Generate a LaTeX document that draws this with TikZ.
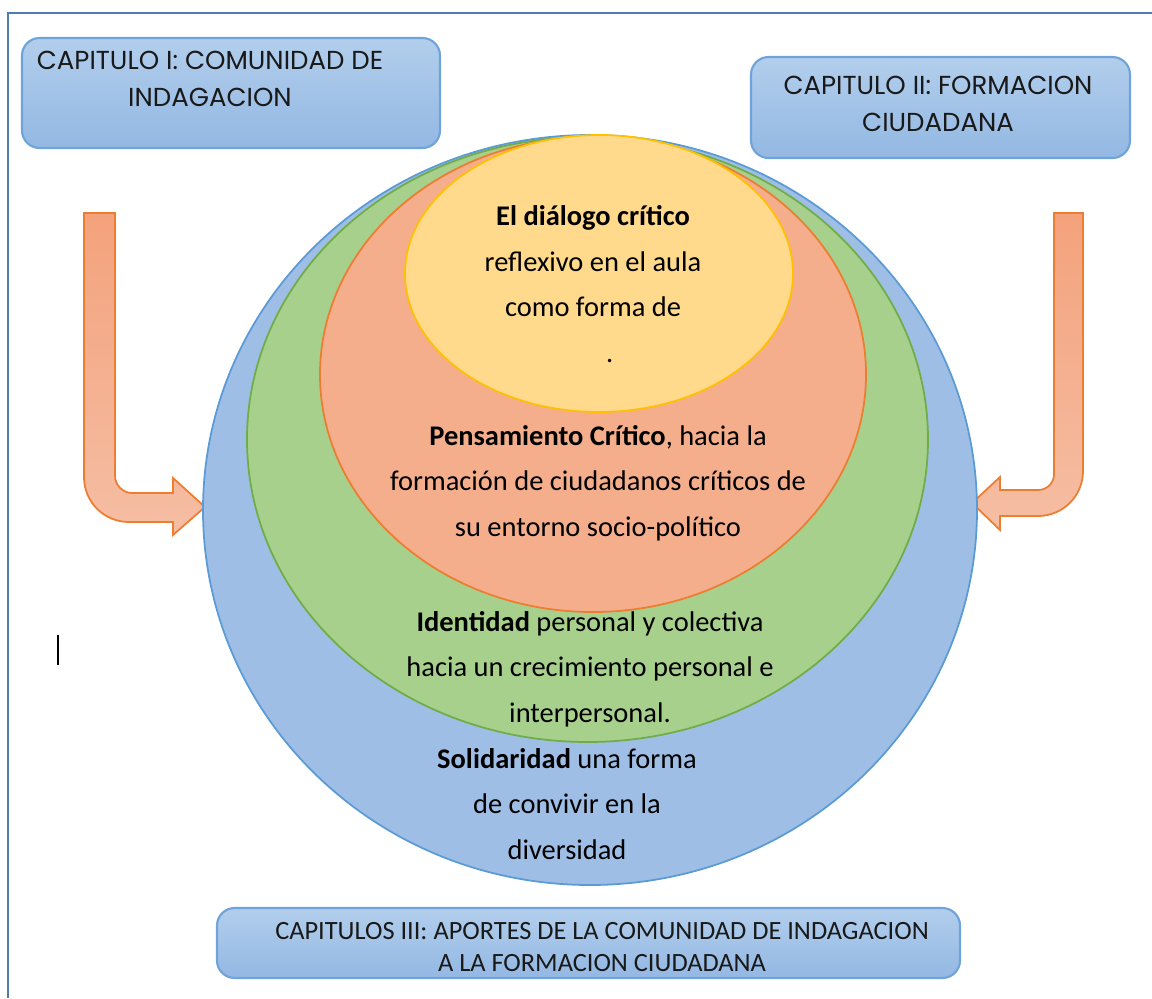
\documentclass[tikz,border=0pt]{standalone}
\usepackage{fontspec}
\setmainfont{Carlito}
\newfontfamily\capfont{Poppins}
\definecolor{frameline}{HTML}{4F7DB0}
\definecolor{boxline}{HTML}{6FA3DA}
\definecolor{boxtop}{HTML}{B2CEEC}
\definecolor{boxbot}{HTML}{93B8E3}
\definecolor{arrline}{HTML}{ED7D31}
\definecolor{arrtop}{HTML}{F4A27C}
\definecolor{arrbot}{HTML}{F5BEA4}
\definecolor{solfill}{HTML}{9EBEE6}
\definecolor{solline}{HTML}{5B9BD5}
\definecolor{idfill}{HTML}{A8D08D}
\definecolor{idline}{HTML}{70AD47}
\definecolor{penfill}{HTML}{F4AE8C}
\definecolor{penline}{HTML}{ED7D31}
\definecolor{diafill}{HTML}{FFD98C}
\definecolor{dialine}{HTML}{FFC000}
\tikzset{every picture/.style={x=0.02cm,y=-0.02cm}}
\tikzset{chapter box/.style={draw=boxline, line width=1.2pt, rounded corners=10pt, top color=boxtop, bottom color=boxbot}}
\tikzset{bend arrow/.style={draw=arrline, line width=1pt, top color=arrtop, bottom color=arrbot}}
\tikzset{ring/.style={line width=1pt}}
\tikzset{ring text/.style={align=center, inner sep=0pt, font=\fontsize{16.2}{26}\selectfont}}
\tikzset{chapter text/.style={align=center, inner sep=0pt, text=black!90}}

\begin{document}
\begin{tikzpicture}
    \useasboundingbox (0,0) rectangle (1152,998);
    \draw[frameline, line width=1.5pt] (8,998) -- (8,13) -- (1152,13);
    % chapter boxes
    \draw[chapter box] (22,38) rectangle (440,148);
    \draw[chapter box] (751,57) rectangle (1130,158);
    \draw[chapter box] (217,908) rectangle (960,978);
    \node[chapter text, font=\capfont\fontsize{14.8}{21.5}\selectfont] (cap1) at (210,79) {CAPITULO I: COMUNIDAD DE\\INDAGACION};
    \node[chapter text, font=\capfont\fontsize{14.8}{21.5}\selectfont] (cap2) at (938,104) {CAPITULO II: FORMACION\\CIUDADANA};
    \node[chapter text, font=\fontsize{15}{18.7}\selectfont] (cap3) at (602,947) {CAPITULOS III: APORTES DE LA COMUNIDAD DE INDAGACION\\A LA FORMACION CIUDADANA};
    % arrows
    \draw[bend arrow] (84,213) -- (84,477) .. controls (84,502) and (104,522) .. (129,522) -- (173,522) -- (173,535) -- (205,507) -- (173,478) -- (173,493) -- (132,493) .. controls (123,493) and (115,485) .. (115,476) -- (115,213) -- cycle;
    \draw[bend arrow] (1083,213) -- (1083,471) .. controls (1083,496) and (1063,516) .. (1038,516) -- (1000,516) -- (1000,530) -- (972,503) -- (1000,477) -- (1000,490) -- (1038,490) .. controls (1047,490) and (1054,483) .. (1054,474) -- (1054,213) -- cycle;
    % rings
    \draw[ring, fill=solfill, draw=solline] (590,510) ellipse [x radius=387, y radius=375];
    \draw[ring, fill=idfill, draw=idline] (587.5,439.5) ellipse [x radius=340.5, y radius=302.5];
    \draw[ring, fill=penfill, draw=penline] (593,374.5) ellipse [x radius=273, y radius=237.5];
    \draw[ring, fill=diafill, draw=dialine] (599,273.5) ellipse [x radius=194, y radius=138.5];
    \node[ring text] (dialogo) at (593,284) {\textbf{El diálogo crítico}\\reflexivo en el aula\\como forma de\\\hspace*{19pt}.};
    \node[ring text] (pensamiento) at (598,483) {\textbf{Pensamiento Crítico}, hacia la\\formación de ciudadanos críticos de\\su entorno socio-político};
    \node[ring text] (identidad) at (590,669) {\textbf{Identidad} personal y colectiva\\hacia un crecimiento personal e\\interpersonal.};
    \node[ring text] (solidaridad) at (567,804) {\textbf{Solidaridad} una forma\\de convivir en la\\diversidad};
    \draw[black, line width=1pt] (58,635) -- (58,665);
\end{tikzpicture}
\end{document}
